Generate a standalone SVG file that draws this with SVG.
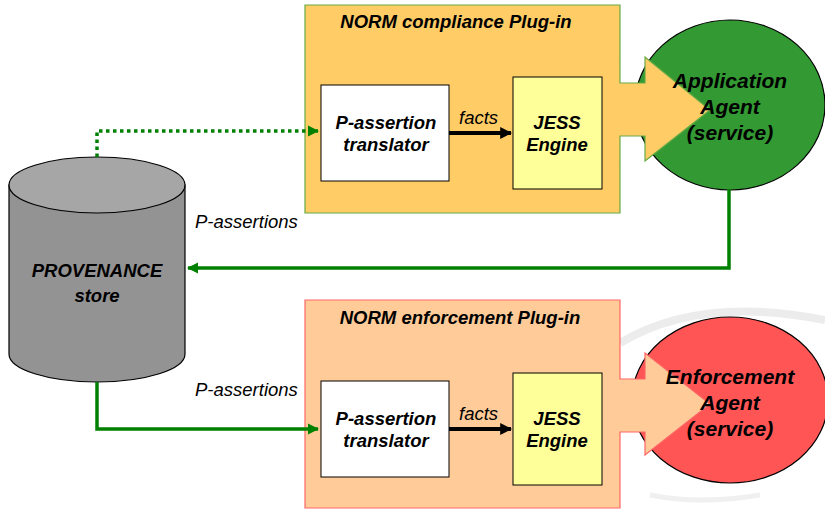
<svg xmlns="http://www.w3.org/2000/svg" width="825" height="510" viewBox="0 0 825 510">
<style>
text{font-family:"Liberation Sans",Arial,sans-serif;font-style:italic;fill:#000}
.t{font-size:18.5px;font-weight:bold;text-anchor:middle}
.a{font-size:21px;font-weight:bold;text-anchor:middle}
.lbl{font-size:18.5px}
.box{fill:#fff;stroke:#000;stroke-width:1}
.jess{fill:#FFFF99;stroke:#000;stroke-width:1}
.g{fill:none;stroke:#008000;stroke-width:3.5}
</style>
<defs>
<marker id="ga" viewBox="0 0 10 10" refX="9" refY="5" markerWidth="3.2" markerHeight="3.2" orient="auto" markerUnits="strokeWidth"><path d="M0,0L10,5L0,10z" fill="#008000"/></marker>
<marker id="ka" viewBox="0 0 10 10" refX="9" refY="5" markerWidth="3" markerHeight="3" orient="auto" markerUnits="strokeWidth"><path d="M0,0L10,5L0,10z" fill="#000"/></marker>
</defs>
<rect width="825" height="510" fill="#fff"/>
<g id="watermark" fill="none" stroke="#ececec" stroke-width="8">
<path d="M620,343 Q700,295 825,320"/>
<path d="M650,495 Q700,505 760,495" stroke-width="5" stroke="#f0f0f0"/>
</g>
<g id="provenance">
<path d="M9,185 L9,354 A88,28 0 0 0 185,354 L185,185 Z" fill="#939393" stroke="#000" stroke-width="1.2"/>
<ellipse cx="97" cy="185" rx="88" ry="28" fill="#A6A6A6" stroke="#000" stroke-width="1.2"/>
<text class="t" x="97" y="277">PROVENANCE</text>
<text class="t" x="97" y="302">store</text>
</g>
<g id="application-agent">
<ellipse cx="730" cy="105" rx="95" ry="85" fill="#339933" stroke="#000" stroke-width="1.2"/>
</g>
<g id="enforcement-agent">
<ellipse cx="730" cy="400" rx="98" ry="83" fill="#FF5555" stroke="#000" stroke-width="1.2"/>
</g>
<g id="compliance-plugin">
<path d="M305,5 H620 V83 H645 V57 L710,110 L645,161 V136 H620 V213 H305 Z" fill="#FFCC66" stroke="#66AA44" stroke-width="1.2"/>
<text class="t" x="456" y="28">NORM compliance Plug-in</text>
</g>
<g id="enforcement-plugin">
<path d="M305,300 H620 V379 H645 V353 L710,404 L645,455 V432 H620 V508 H305 Z" fill="#FFCC99" stroke="#FF6666" stroke-width="1.2"/>
<text class="t" x="460" y="324">NORM enforcement Plug-in</text>
</g>
<g id="agent-labels">
<text class="a" x="730" y="88">Application</text>
<text class="a" x="730" y="114">Agent</text>
<text class="a" x="730" y="140">(service)</text>
<text class="a" x="730" y="384">Enforcement</text>
<text class="a" x="730" y="410">Agent</text>
<text class="a" x="730" y="436">(service)</text>
</g>
<g id="translator1">
<rect class="box" x="321" y="85" width="128" height="96"/>
<text class="t" x="386" y="129">P-assertion</text>
<text class="t" x="386" y="151">translator</text>
</g>
<g id="jess1">
<rect class="jess" x="513" y="77" width="89" height="112"/>
<text class="t" x="557" y="129">JESS</text>
<text class="t" x="557" y="151">Engine</text>
</g>
<g id="translator2">
<rect class="box" x="321" y="381" width="128" height="96"/>
<text class="t" x="386" y="425">P-assertion</text>
<text class="t" x="386" y="447">translator</text>
</g>
<g id="jess2">
<rect class="jess" x="513" y="373" width="89" height="112"/>
<text class="t" x="557" y="425">JESS</text>
<text class="t" x="557" y="447">Engine</text>
</g>
<g id="connectors">
<path class="g" d="M97,157 V131 H318" stroke-dasharray="3.5,3.5" marker-end="url(#ga)"/>
<path class="g" d="M729,189 V268 H188" marker-end="url(#ga)"/>
<path class="g" d="M97,382 V429 H318" marker-end="url(#ga)"/>
<path d="M449,133 H511" stroke="#000" stroke-width="4" fill="none" marker-end="url(#ka)"/>
<path d="M449,429 H511" stroke="#000" stroke-width="4" fill="none" marker-end="url(#ka)"/>
<text class="lbl" x="459" y="124">facts</text>
<text class="lbl" x="459" y="420">facts</text>
<text class="lbl" x="195" y="228">P-assertions</text>
<text class="lbl" x="195" y="396">P-assertions</text>
</g>
</svg>
